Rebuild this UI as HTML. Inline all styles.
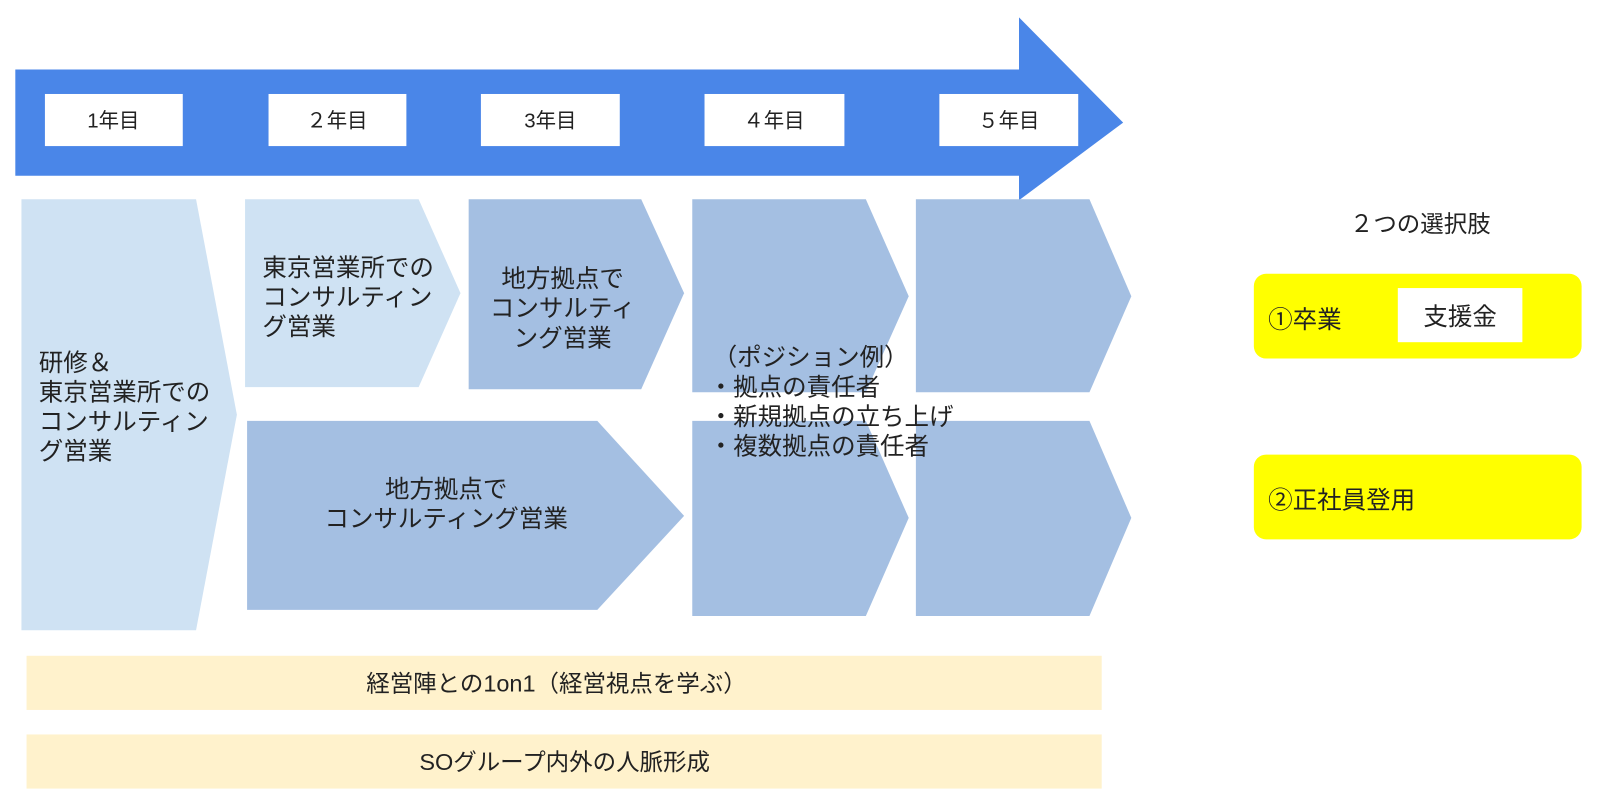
<!DOCTYPE html>
<html><head><meta charset="utf-8"><style>
html,body{margin:0;padding:0;background:#fff;}
svg{display:block;}
text{font-family:"Liberation Sans","Noto Sans CJK JP",sans-serif;fill:#222;}
</style></head><body>
<svg width="1601" height="808" viewBox="0 0 1568 791" preserveAspectRatio="none">
<rect width="1568" height="791" fill="#fff"/>
<polygon points="15,68 998,68 998,17 1100,120 998,196 998,172 15,172" fill="#4a86e8"/>
<g fill="#fff">
<rect x="44" y="92" width="135" height="51"/>
<rect x="263" y="92" width="135" height="51"/>
<rect x="471" y="92" width="136" height="51"/>
<rect x="690" y="92" width="137" height="51"/>
<rect x="920" y="92" width="136" height="51"/>
</g>
<g font-size="20" text-anchor="middle">
<text x="111" y="125">1年目</text>
<text x="330" y="125">２年目</text>
<text x="539" y="125">3年目</text>
<text x="758" y="125">４年目</text>
<text x="988" y="125">５年目</text>
</g>
<polygon points="21,195 192,195 232,406 192,617 21,617" fill="#cfe2f3"/>
<polygon points="240,195 410,195 451,287 410,379 240,379" fill="#cfe2f3"/>
<polygon points="459,195 628,195 670,287 628,381 459,381" fill="#a4bfe2"/>
<polygon points="678,195 848,195 890,290 848,384 678,384" fill="#a4bfe2"/>
<polygon points="897,195 1067,195 1108,290 1067,384 897,384" fill="#a4bfe2"/>
<polygon points="242,412 585,412 670,505 585,597 242,597" fill="#a4bfe2"/>
<polygon points="678,412 848,412 890,507 848,603 678,603" fill="#a4bfe2"/>
<polygon points="897,412 1067,412 1108,507 1067,603 897,603" fill="#a4bfe2"/>
<g font-size="24">
<text x="38" y="363">研修＆</text>
<text x="38" y="392">東京営業所での</text>
<text x="38" y="421">コンサルティン</text>
<text x="38" y="450">グ営業</text>
<text x="257" y="270">東京営業所での</text>
<text x="257" y="299">コンサルティン</text>
<text x="257" y="328">グ営業</text>
</g>
<g font-size="24" text-anchor="middle">
<text x="551" y="281">地方拠点で</text>
<text x="551" y="310">コンサルティ</text>
<text x="551" y="339">ング営業</text>
<text x="437" y="487">地方拠点で</text>
<text x="437" y="516">コンサルティング営業</text>
</g>
<g font-size="24">
<text x="698" y="358">（ポジション例）</text>
<text x="694" y="387">・拠点の責任者</text>
<text x="694" y="416">・新規拠点の立ち上げ</text>
<text x="694" y="445">・複数拠点の責任者</text>
</g>
<rect x="26" y="642" width="1053" height="53" fill="#fff2cc"/>
<rect x="26" y="719" width="1053" height="53" fill="#fff2cc"/>
<g font-size="23" text-anchor="middle">
<text x="545" y="677">経営陣との1on1（経営視点を学ぶ）</text>
<text x="553" y="754">SOグループ内外の人脈形成</text>
</g>
<text x="1391" y="227" font-size="23" text-anchor="middle">２つの選択肢</text>
<rect x="1228" y="268" width="321" height="83" rx="12" fill="#ffff00"/>
<rect x="1369" y="282" width="122" height="53" fill="#fff"/>
<rect x="1228" y="445" width="321" height="83" rx="12" fill="#ffff00"/>
<g font-size="24">
<text x="1242" y="321">①卒業</text>
<text x="1430" y="318" text-anchor="middle">支援金</text>
<text x="1242" y="498">②正社員登用</text>
</g>
</svg>
</body></html>
